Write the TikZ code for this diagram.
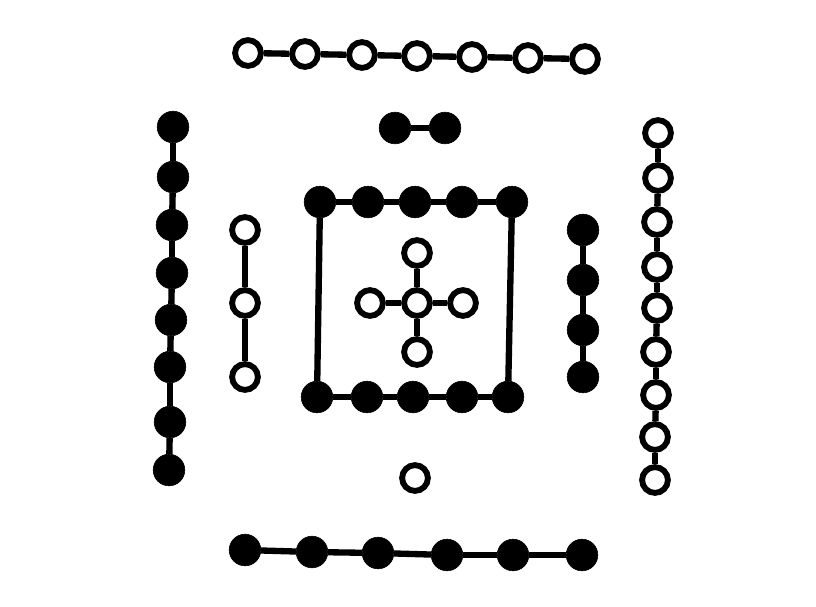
\documentclass[tikz,border=0pt]{standalone}
\usetikzlibrary{positioning}
\tikzstyle{yang}=[draw,fill=white,circle,line width=5pt,minimum size=22pt,inner sep=0pt]
\tikzstyle{yin}=[draw,fill=black,circle,line width=0.5pt,minimum size=27pt,inner sep=0pt]
\tikzstyle{link}=[line width=5.4pt]

\begin{document}
\begin{tikzpicture}[x=0.03cm,y=-0.03cm]
\useasboundingbox (0,0) rectangle (816,606);
\foreach \x/\y [count=\i] in {248/53,305/54,362/55,417/56,472/57,528/58,585/59}
  \node [yang] (so\i) at (\x,\y) {};
\foreach \i [count=\j from 2] in {1,...,6} \draw [link] (so\i) -- (so\j);
\node [yin] (si1) at (395,128) {};
\node [yin] (si2) at (445,128) {};
\draw [link] (si1) -- (si2);
\foreach \x/\y [count=\i] in {173/127,173/177,172/225,172/273,171/320,170/367,170/422,169/470}
  \node [yin] (wo\i) at (\x,\y) {};
\foreach \i [count=\j from 2] in {1,...,7} \draw [link] (wo\i) -- (wo\j);
\foreach \y [count=\i] in {230,303,377}
  \node [yang] (wi\i) at (245,\y) {};
\foreach \i [count=\j from 2] in {1,2} \draw [link] (wi\i) -- (wi\j);
\foreach \y [count=\i] in {230,280,330,377}
  \node [yin] (ei\i) at (583,\y) {};
\foreach \i [count=\j from 2] in {1,2,3} \draw [link] (ei\i) -- (ei\j);
\foreach \x/\y [count=\i] in {658/133,658/178,657/222,657/267,657/308,656/352,656/395,655/437,655/480}
  \node [yang] (eo\i) at (\x,\y) {};
\foreach \i [count=\j from 2] in {1,...,8} \draw [link] (eo\i) -- (eo\j);
\foreach \x [count=\i] in {320,368,415,462,512}
  \node [yin] (ta\i) at (\x,202) {};
\foreach \x [count=\i] in {317,367,413,462,508}
  \node [yin] (tb\i) at (\x,397) {};
\foreach \i [count=\j from 2] in {1,...,4} {
  \draw [link] (ta\i) -- (ta\j);
  \draw [link] (tb\i) -- (tb\j);
}
\draw [link] (ta1) -- (tb1);
\draw [link] (ta5) -- (tb5);
\node [yang] (c) at (417,303) {};
\node [yang] (cn) at (417,253) {};
\node [yang] (cs) at (417,352) {};
\node [yang] (cw) at (370,303) {};
\node [yang] (ce) at (463,303) {};
\foreach \d in {cn,cs,cw,ce} \draw [link] (c) -- (\d);
\node [yang] (ni) at (415,478) {};
\foreach \x/\y [count=\i] in {245/550,312/552,378/553,447/555,513/555,582/555}
  \node [yin] (no\i) at (\x,\y) {};
\foreach \i [count=\j from 2] in {1,...,5} \draw [link] (no\i) -- (no\j);
\end{tikzpicture}
\end{document}
